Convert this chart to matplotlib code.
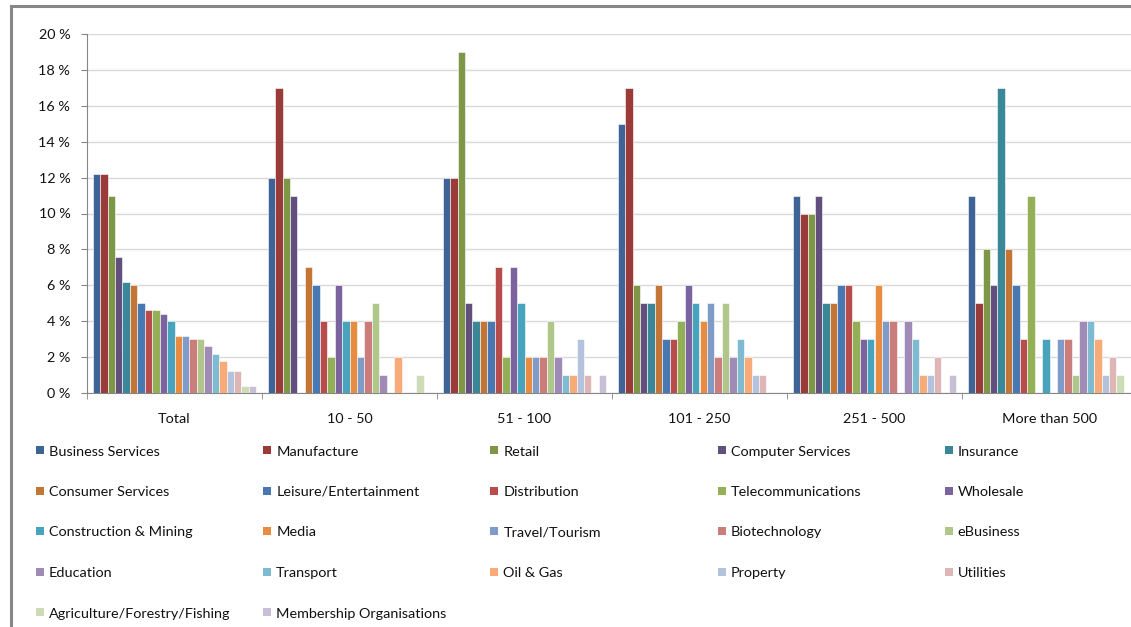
import numpy as np
import matplotlib
matplotlib.use("Agg")
import matplotlib.pyplot as plt
from matplotlib.patches import Rectangle

groups = ["Total", "10 - 50", "51 - 100", "101 - 250", "251 - 500", "More than 500"]

sectors = ["Business Services", "Manufacture", "Retail", "Computer Services", "Insurance",
           "Consumer Services", "Leisure/Entertainment", "Distribution", "Telecommunications", "Wholesale",
           "Construction & Mining", "Media", "Travel/Tourism", "Biotechnology", "eBusiness",
           "Education", "Transport", "Oil & Gas", "Property", "Utilities",
           "Agriculture/Forestry/Fishing", "Membership Organisations"]

# percent per sector, one list per group (same order as sectors)
total      = [12.2, 12.2, 11, 7.6, 6.2, 6.0, 5.0, 4.6, 4.6, 4.4, 4.0, 3.2, 3.2, 3.0, 3.0, 2.6, 2.2, 1.8, 1.2, 1.2, 0.4, 0.4]
size_10_50 = [12, 17, 12, 11, 0, 7, 6, 4, 2, 6, 4, 4, 2, 4, 5, 1, 0, 2, 0, 0, 1, 0]
size_51_100 = [12, 12, 19, 5, 4, 4, 4, 7, 2, 7, 5, 2, 2, 2, 4, 2, 1, 1, 3, 1, 0, 1]
size_101_250 = [15, 17, 6, 5, 5, 6, 3, 3, 4, 6, 5, 4, 5, 2, 5, 2, 3, 2, 1, 1, 0, 0]
size_251_500 = [11, 10, 10, 11, 5, 5, 6, 6, 4, 3, 3, 6, 4, 4, 0, 4, 3, 1, 1, 2, 0, 1]
size_500_up = [11, 5, 8, 6, 17, 8, 6, 3, 11, 0, 3, 0, 3, 3, 1, 4, 4, 3, 1, 2, 1, 0]

colors = ["#3E6497", "#9A3B3A", "#7D9746", "#634F7E", "#3A8798",
          "#C27534", "#4878B2", "#B84C4A", "#94B057", "#7B63A0",
          "#47A4BC", "#E88C42", "#7F9CC9", "#CA7D7B", "#B0C68B",
          "#9F8BB6", "#7FBBD0", "#F8AB79", "#B4C3DD", "#DEB6B5",
          "#CEDBB7", "#C6BFD6"]

plt.rcParams['font.family'] = ['Lato', 'DejaVu Sans']

data = np.array([total, size_10_50, size_51_100, size_101_250, size_251_500, size_500_up])

W, H = 1131, 627
fig = plt.figure(figsize=(W / 100, H / 100), dpi=100)

# outer chart frame
fig.patches.append(Rectangle((11 / W, -0.1), 1.2, (H - 6) / H + 0.1, transform=fig.transFigure,
                             fill=False, edgecolor="#868686", linewidth=2.2))

ax = fig.add_axes([87 / W, (H - 393) / H, 1050 / W, 359 / H])

n = len(sectors)
bw = 0.0425
x = np.arange(len(groups))
for i in range(n):
    offs = (i - (n - 1) / 2) * bw
    ax.bar(x + offs, data[:, i], width=bw, color=colors[i], edgecolor="white", linewidth=0.4,
           label=sectors[i], zorder=3)

ax.set_xlim(-0.5, len(groups) - 0.5)
ax.set_ylim(0, 20)
ax.set_yticks(range(0, 21, 2))
ax.set_yticklabels(["%d %%" % v for v in range(0, 21, 2)])
ax.grid(axis="y", color="#D9D9D9", linewidth=1.0, zorder=0)

ax.set_xticks(x)
ax.set_xticklabels(groups)
ax.set_xticks(np.arange(len(groups) + 1) - 0.5, minor=True)
ax.tick_params(axis="x", which="major", length=0, pad=14.5, labelsize=10.4, colors="#111111")
ax.tick_params(axis="x", which="minor", length=4, color="#868686", direction="out")
ax.tick_params(axis="y", length=4, color="#868686", pad=8, labelsize=10.4, labelcolor="#111111")

for s in ["top", "right"]:
    ax.spines[s].set_visible(False)
ax.spines["left"].set_color("#868686")
ax.spines["bottom"].set_color("#868686")

# legend, row by row, five columns
for i, name in enumerate(sectors):
    r, c = divmod(i, 5)
    lx = 36 + c * 227.2
    ly = 450 + r * 40.5
    fig.patches.append(Rectangle((lx / W, (H - ly - 4) / H), 8 / W, 8 / H, transform=fig.transFigure,
                                 facecolor=colors[i], edgecolor="none"))
    fig.text((lx + 13) / W, (H - ly - 1.5) / H, name, fontsize=10.4, color="#111111",
             va="center", ha="left")

fig.savefig("out.png", dpi=100)
